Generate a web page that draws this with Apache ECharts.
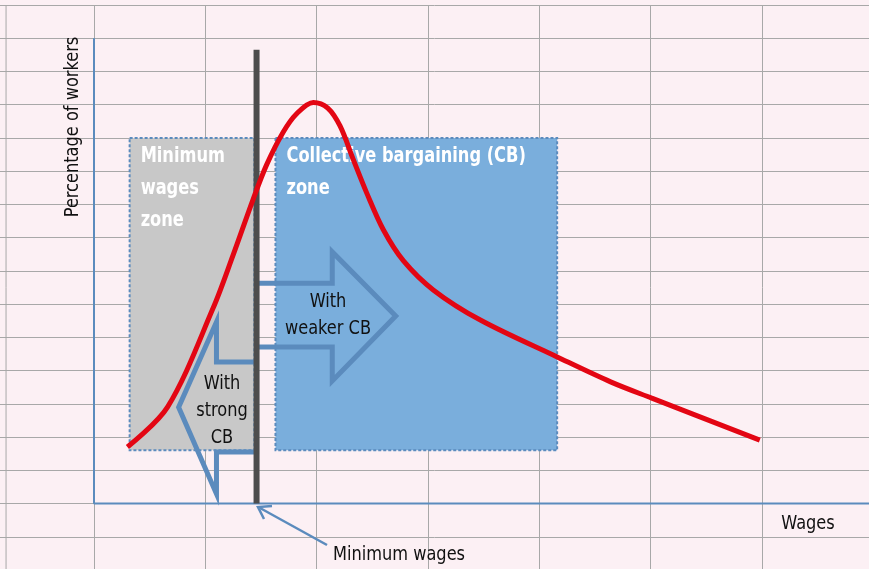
<!DOCTYPE html>
<html>
<head>
<meta charset="utf-8">
<script src="https://cdn.jsdelivr.net/npm/echarts@6/dist/echarts.min.js"></script>
<style>
  html, body { margin: 0; padding: 0; background: #fcf0f4; }
  #main { width: 869px; height: 569px; }
</style>
</head>
<body>
<div id="main"></div>
<script>
// wage distribution curve (x = wages, y = percentage of workers)
var curveX = [0.30, 0.66, 1.07, 1.25, 1.43, 1.55, 1.70, 1.82, 1.97, 2.10, 2.21, 2.33, 2.45, 2.60, 2.78, 3.05, 3.47, 4.16, 4.64, 5.01, 5.98];
var curveY = [1.70, 2.90, 5.88, 7.48, 9.16, 10.19, 11.18, 11.73, 12.07, 11.90, 11.36, 10.34, 9.34, 8.23, 7.30, 6.42, 5.52, 4.41, 3.66, 3.17, 1.91];

// zones
var zoneNames = ['Minimum\nwages\nzone', 'Collective bargaining (CB)\nzone'];
var zoneFrom = [0.32, 1.63];
var zoneTo = [1.44, 4.16];
var zoneLow = [1.60, 1.60];
var zoneHigh = [11.0, 11.0];

// minimum wage level
var minWage = 1.46;
var minWageTop = 13.65;

// arrows (outline points)
var weakerArrow = [[1.46, 6.63], [2.14, 6.63], [2.14, 7.57], [2.71, 5.64], [2.14, 3.69], [2.14, 4.71], [1.46, 4.71]];
var strongArrow = [[1.46, 4.26], [1.10, 4.26], [1.10, 5.46], [0.76, 2.90], [1.10, 0.29], [1.10, 1.55], [1.46, 1.55]];

var curveData = [];
for (var i = 0; i < curveX.length; i++) {
  curveData.push([curveX[i], curveY[i]]);
}

var zoneData = [];
for (var j = 0; j < zoneNames.length; j++) {
  zoneData.push([zoneFrom[j], zoneTo[j], zoneLow[j], zoneHigh[j], j]);
}

var FONT = "'Liberation Sans Narrow', 'DejaVu Sans Condensed', sans-serif";
var zoneFill = ['#c8c8c8', '#7aaedc'];
var blue = '#5b8bbd';

var chart = echarts.init(document.getElementById('main'), null, { renderer: 'canvas' });

function arrowItem(points) {
  return function (params, api) {
    var pts = points.map(function (p) { return api.coord(p); });
    return {
      type: 'polygon',
      shape: { points: pts },
      style: { fill: 'none', stroke: blue, lineWidth: 5, lineJoin: 'miter' }
    };
  };
}

function label(text, x, y, align) {
  return {
    type: 'text', x: x, y: y, z: 100, scaleX: 0.9,
    style: {
      text: text, font: '20px ' + FONT, fill: '#111', lineHeight: 27,
      textAlign: align, textVerticalAlign: 'top'
    }
  };
}

var option = {
  backgroundColor: '#fcf0f4',
  animation: false,
  grid: { left: -17.33, top: 5, width: 890.67, height: 565, outerBoundsMode: 'none', containLabel: false },
  xAxis: {
    type: 'value', min: -1, max: 7, interval: 1,
    axisLine: { show: false }, axisTick: { show: false }, axisLabel: { show: false },
    splitLine: { show: true, lineStyle: { color: '#a8a8a8', width: 1 } }
  },
  yAxis: {
    type: 'value', min: -2, max: 15, interval: 1,
    axisLine: { show: false }, axisTick: { show: false }, axisLabel: { show: false },
    splitLine: { show: true, lineStyle: { color: '#a8a8a8', width: 1 } }
  },
  series: [
    {
      // sheet border on the left
      type: 'line', silent: true, symbol: 'none', z: 1,
      data: [[-0.79, -2], [-0.79, 15]],
      lineStyle: { color: '#a8a8a8', width: 1 }
    },
    {
      type: 'custom', z: 2,
      data: zoneData,
      renderItem: function (params, api) {
        var p0 = api.coord([api.value(0), api.value(3)]);
        var p1 = api.coord([api.value(1), api.value(2)]);
        var k = api.value(4);
        return {
          type: 'group',
          children: [
            {
              type: 'rect',
              shape: { x: p0[0], y: p0[1], width: p1[0] - p0[0], height: p1[1] - p0[1] },
              style: { fill: zoneFill[k], stroke: blue, lineWidth: 2, lineDash: [3, 2] }
            },
            {
              type: 'text',
              x: p0[0] + 11, y: p0[1] + 3, scaleX: 0.86,
              style: {
                text: zoneNames[k], fill: '#ffffff',
                font: 'bold 21px ' + FONT, lineHeight: 32,
                textAlign: 'left', textVerticalAlign: 'top'
              }
            }
          ]
        };
      }
    },
    {
      type: 'custom', z: 3, data: [0],
      renderItem: arrowItem(weakerArrow)
    },
    {
      type: 'custom', z: 3, data: [0],
      renderItem: arrowItem(strongArrow)
    },
    {
      // axes
      type: 'line', silent: true, symbol: 'none', z: 4,
      data: [[0, 14], [0, 0], [7, 0]],
      lineStyle: { color: blue, width: 2 }
    },
    {
      // minimum wage line
      type: 'line', silent: true, symbol: 'none', z: 5,
      data: [[minWage, 0], [minWage, minWageTop]],
      lineStyle: { color: '#4d4d4d', width: 6 }
    },
    {
      type: 'line', silent: true, symbol: 'none', z: 6,
      smooth: 0.33,
      data: curveData,
      lineStyle: { color: '#e30613', width: 5 }
    }
  ],
  graphic: [
    {
      type: 'text', x: 73, y: 127, z: 100, rotation: Math.PI / 2, scaleX: 0.9,
      style: { text: 'Percentage of workers', font: '20px ' + FONT, fill: '#111', textAlign: 'center', textVerticalAlign: 'middle' }
    },
    label('Wages', 808, 510, 'center'),
    label('Minimum wages', 333, 541, 'left'),
    label('With\nweaker CB', 328, 288, 'center'),
    label('With\nstrong\nCB', 222, 370, 'center'),
    {
      type: 'polyline', z: 100,
      shape: { points: [[327, 545], [260, 508]] },
      style: { stroke: blue, lineWidth: 2.5, fill: 'none' }
    },
    {
      type: 'polyline', z: 100,
      shape: { points: [[264, 519], [258, 507], [272, 506]] },
      style: { stroke: blue, lineWidth: 2.5, fill: 'none' }
    }
  ]
};

chart.setOption(option);
</script>
</body>
</html>
